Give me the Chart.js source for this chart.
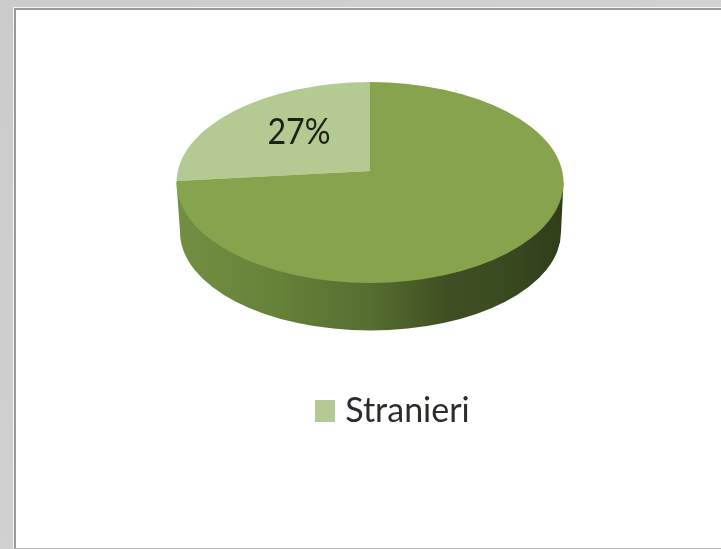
<!DOCTYPE html>
<html>
<head>
<meta charset="utf-8">
<title>Stranieri</title>
<script src="https://cdn.jsdelivr.net/npm/chart.js@4/dist/chart.umd.js"></script>
<style>
  html, body { margin: 0; height: 100%; overflow: hidden; background: linear-gradient(135deg, #cbcbcb, #d8d8d8); }
  #panel {
    position: absolute; left: 13px; top: 7px; right: 0; bottom: 0;
    background: #fff;
    border-left: 1px solid #f4f4f4; border-top: 1px solid #f4f4f4;
    border-bottom: 1px solid #b4b4b4;
    box-sizing: border-box;
  }
  #panel::before {
    content: ""; position: absolute; left: 0; top: 0; right: 0; bottom: 0;
    border-left: 2px solid #9a9a9a; border-top: 2px solid #9a9a9a;
  }
  #pie { position: absolute; left: 0; top: 0; }
</style>
</head>
<body>
<div id="panel"></div>
<canvas id="pie" width="721" height="549"></canvas>
<script>
const categories = ["Stranieri", ""];
const values = [27, 73];
const sliceColors = ["#b5c993", "#88a34e"];

// top face of the disc, and where the slices meet on it
const face = { x: 370, y: 182.5, rx: 193.5, ry: 100.5 };
const hub = { x: 370, y: 171, reach: 205, squash: 0.64, tilt: 0.029 };
const wall = { x: 370.5, y: 232, rx: 190.5, ry: 98.5 };

// wide rim stops, light at the left to dark at the right
const wallStops = [
  [0, "#728f42"], [0.25, "#67823a"], [0.5, "#566e30"],
  [0.7, "#404f23"], [0.85, "#3a4a20"], [1, "#2f3d19"]
];

// legend swatch, wider than the slot so the text sits close to it
const swatch = document.createElement("canvas");
swatch.width = 20;
swatch.height = 22;
const swatchCtx = swatch.getContext("2d");
swatchCtx.fillStyle = sliceColors[0];
swatchCtx.fillRect(0, 0, 20, 22);

const disc3d = {
  id: "disc3d",
  beforeDatasetsDraw(chart) {
    const ctx = chart.ctx;
    const arc = chart.getDatasetMeta(0).data[0];

    const grad = ctx.createLinearGradient(face.x - face.rx, 0, face.x + face.rx, 0);
    wallStops.forEach(s => grad.addColorStop(s[0], s[1]));
    ctx.fillStyle = grad;
    ctx.beginPath();
    ctx.moveTo(face.x + face.rx, face.y);
    ctx.ellipse(wall.x, wall.y, wall.rx, wall.ry, 0, 0, Math.PI);
    ctx.lineTo(face.x - face.rx, face.y);
    ctx.closePath();
    ctx.fill();

    // slices are clipped to the face and flattened around the hub
    ctx.save();
    ctx.beginPath();
    ctx.ellipse(face.x, face.y, face.rx, face.ry, 0, 0, Math.PI * 2);
    ctx.clip();
    ctx.translate(hub.x, hub.y);
    ctx.transform(1, hub.tilt, 0, hub.squash, 0, 0);
    ctx.scale(hub.reach / arc.outerRadius, hub.reach / arc.outerRadius);
    ctx.translate(-arc.x, -arc.y);
  },
  afterDatasetsDraw(chart) {
    const ctx = chart.ctx;
    ctx.restore();

    // percentage label, narrowed a little
    ctx.save();
    ctx.translate(299, 144);
    ctx.scale(0.87, 1);
    ctx.fillStyle = "#1c2116";
    ctx.font = "37px Lato";
    ctx.textAlign = "center";
    ctx.textBaseline = "alphabetic";
    ctx.fillText(values[0] + "%", 0, 0);
    ctx.restore();
  }
};

new Chart(document.getElementById("pie"), {
  type: "pie",
  plugins: [disc3d],
  data: {
    labels: categories,
    datasets: [{
      data: values,
      backgroundColor: sliceColors,
      borderWidth: 0,
      clip: false
    }]
  },
  options: {
    responsive: false,
    animation: false,
    events: [],
    rotation: -360 * values[0] / 100,
    layout: { padding: { left: 71, right: 0, top: 0, bottom: 111 } },
    plugins: {
      tooltip: { enabled: false },
      legend: {
        position: "bottom",
        labels: {
          usePointStyle: true,
          pointStyle: swatch,
          pointStyleWidth: 6,
          color: "#2a2d28",
          font: { family: "Lato", size: 34 },
          filter: item => item.text !== ""
        }
      }
    }
  }
});
</script>
</body>
</html>
